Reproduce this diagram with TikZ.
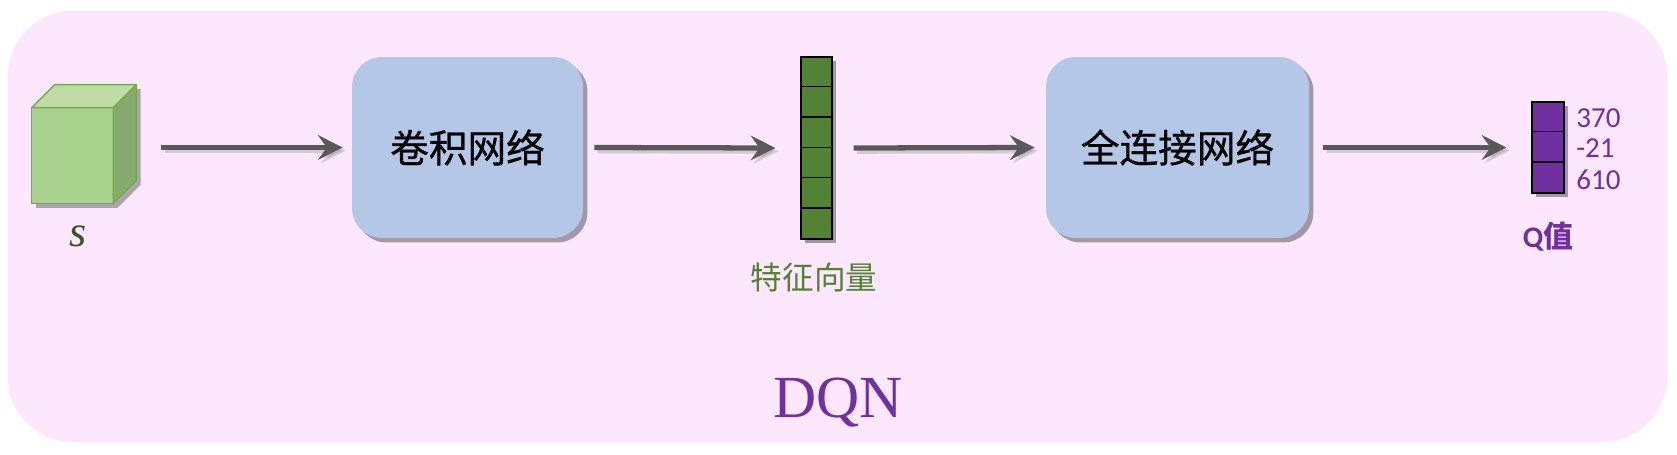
\documentclass[tikz,border=0pt]{standalone}
\usepackage{fontspec}
\newfontfamily\cjk{Noto Sans CJK SC}
\newfontfamily\cjkm[FakeBold=0.8]{Noto Sans CJK SC}
\newfontfamily\calib{Carlito}
\newfontfamily\serifb{Liberation Serif}
\usetikzlibrary{arrows.meta,shadows}
\definecolor{pinkbg}{HTML}{FCE7FC}
\definecolor{boxblue}{HTML}{B4C7E7}
\definecolor{cfront}{HTML}{A9D18E}
\definecolor{ctop}{HTML}{BFDCA7}
\definecolor{cside}{HTML}{86AB6F}
\definecolor{cedge}{HTML}{70AD47}
\definecolor{vecgreen}{HTML}{548235}
\definecolor{qpurple}{HTML}{7030A0}
\definecolor{arrowgray}{HTML}{595959}
\definecolor{sgreen}{HTML}{375623}
\tikzset{
  shad/.style={drop shadow={shadow xshift=2.5pt, shadow yshift=-2.5pt, opacity=0.35, fill=black}},
  netbox/.style={rectangle, rounded corners=0.6cm, fill=boxblue, draw=none, inner sep=0pt, shad,
     font=\cjkm\fontsize{22}{26}\selectfont, text=black},
  cell/.style={rectangle, inner sep=0pt, draw=black, line width=0.7pt, shad},
  arr/.style={draw=arrowgray, line width=3pt, -{Stealth[length=14pt, width=14pt, inset=5pt]},
     preaction={draw=black!50, opacity=0.3, line width=3pt, -{Stealth[length=14pt, width=14pt, inset=5pt]}, transform canvas={xshift=1.8pt, yshift=-1.8pt}}},
  numtxt/.style={anchor=base west, inner sep=0pt, text=qpurple, font=\calib\fontsize{16.5}{18}\selectfont},
}
\begin{document}
\begin{tikzpicture}[x=0.02cm, y=-0.02cm]
\useasboundingbox (0,0) rectangle (1677,454);
% background
\node[rectangle, rounded corners=1.3cm, fill=pinkbg, draw=none, minimum width=1659*0.02cm, minimum height=431*0.02cm, inner sep=0pt] (bg) at (837.5,226.5) {};
% cube
\node[rectangle, inner sep=0pt, minimum width=81*0.02cm, minimum height=95*0.02cm] (cube) at (72.5,155.5) {};
\fill[black, opacity=0.3, transform canvas={xshift=2.5pt, yshift=-2.5pt}]
  (cube.south west) -- (cube.north west) -- ++(23,-23) -- ([shift={(23,-23)}]cube.north east) -- ([shift={(23,-23)}]cube.south east) -- (cube.south east) -- cycle;
\filldraw[fill=cfront, draw=cedge, line width=0.8pt] (cube.south west) rectangle (cube.north east);
\filldraw[fill=ctop, draw=cedge, line width=0.8pt, line join=round] (cube.north west) -- ++(23,-23) -- ([shift={(23,-23)}]cube.north east) -- (cube.north east) -- cycle;
\filldraw[fill=cside, draw=cedge, line width=0.8pt, line join=round] (cube.north east) -- ++(23,-23) -- ([shift={(23,-23)}]cube.south east) -- (cube.south east) -- cycle;
\node[anchor=base, inner sep=0pt, text=sgreen, font=\serifb\fontsize{25}{28}\selectfont] (slabel) at (78,246) {\itshape s};
% boxes
\node[netbox, minimum width=231*0.02cm, minimum height=181*0.02cm] (box1) at (467.5,147.5) {卷积网络};
\node[netbox, minimum width=263*0.02cm, minimum height=181*0.02cm] (box2) at (1177.5,147.5) {全连接网络};
% feature vector
\node[cell, fill=vecgreen, minimum width=31*0.02cm, minimum height=182*0.02cm] (vec) at (816.5,148) {};
\foreach \i in {1,...,5} {
  \draw[black, line width=0.7pt] (vec.north west) ++(0,\i*30.333) -- ++(31,0);
}
\node[anchor=center, inner sep=0pt, text=vecgreen, font=\cjk\fontsize{18}{22}\selectfont] (veclabel) at (814,277) {特征向量};
% Q column
\node[cell, fill=qpurple, minimum width=32*0.02cm, minimum height=91*0.02cm] (q) at (1548,147.5) {};
\foreach \i in {1,2} {
  \draw[black, line width=0.7pt] (q.north west) ++(0,\i*30.333) -- ++(32,0);
}
\node[numtxt] (n1) at (1576,127) {370};
\node[numtxt] (n2) at (1576,157.5) {-21};
\node[numtxt] (n3) at (1576,189) {610};
\node[anchor=base, inner sep=0pt, text=qpurple, font=\fontsize{17}{20}\selectfont] (qlabel) at (1548,247) {{\calib\bfseries Q}{\cjk\bfseries 值}};
% arrows
\draw[arr] ([xshift=0.96cm]cube.east |- box1.west) -- ([xshift=-0.18cm]box1.west);
\draw[arr] ([xshift=0.22cm]box1.east) -- ([xshift=-0.5cm]vec.west);
\draw[arr] ([xshift=0.42cm]vec.east) -- ([xshift=-0.22cm]box2.west);
\draw[arr] ([xshift=0.28cm]box2.east) -- ([xshift=-0.5cm]q.west);
% title
\node[anchor=base, inner sep=0pt, text=qpurple, font=\serifb\fontsize{34}{38}\selectfont] (title) at (838,417) {DQN};
\end{tikzpicture}
\end{document}
